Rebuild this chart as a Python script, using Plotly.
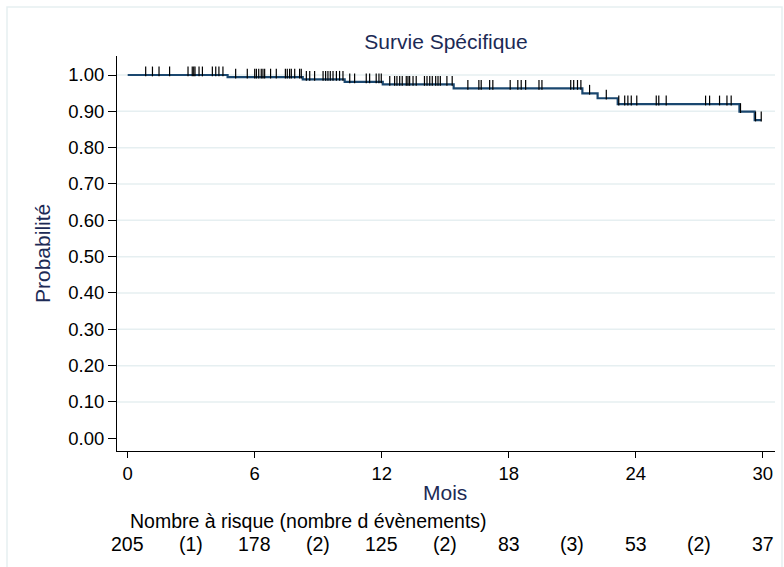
import numpy as np
import plotly.graph_objects as go

# ---- data ----
event_times = [4.72, 8.27, 10.25, 12.05, 15.40, 21.48, 22.20, 23.15, 28.90, 29.62]
survival = [0.994, 0.988, 0.981, 0.974, 0.963, 0.9496, 0.936, 0.920, 0.899, 0.876]
end_time = 29.93

censor_times = [0.85, 1.17, 1.48, 1.98, 2.85, 3.05, 3.12, 3.18, 3.37, 3.53, 4.0, 4.16,
                4.31, 4.5, 5.1, 5.65, 6.0, 6.08, 6.19, 6.31, 6.39, 6.47, 6.75, 7.02,
                7.45, 7.54, 7.65, 7.73, 7.89, 8.12, 8.2, 8.44, 8.6, 8.83, 9.23, 9.35,
                9.46, 9.57, 9.7, 9.86, 10.01, 10.17, 10.49, 10.72, 11.27, 11.43, 11.74,
                11.87, 11.98, 12.38, 12.61, 12.72, 12.85, 12.97, 13.16, 13.24, 13.32,
                13.48, 13.63, 14.02, 14.14, 14.27, 14.39, 14.55, 14.66, 14.77, 15.08,
                15.33, 16.07, 16.59, 16.70, 17.1, 17.25, 18.07, 18.43, 18.59, 18.8,
                19.43, 19.57, 20.93, 21.07, 21.25, 21.41, 21.82, 22.61, 23.2, 23.48,
                23.63, 23.79, 24.05, 24.97, 25.09, 25.44, 27.3, 27.49, 27.96, 28.31,
                28.51, 28.95, 29.66, 29.93]

x_ticks = [0, 6, 12, 18, 24, 30]
y_ticks = [0.0, 0.1, 0.2, 0.3, 0.4, 0.5, 0.6, 0.7, 0.8, 0.9, 1.0]
y_tick_labels = ["0.00", "0.10", "0.20", "0.30", "0.40", "0.50", "0.60", "0.70", "0.80", "0.90", "1.00"]
at_risk = [205, 178, 125, 83, 53, 37]
events_per_interval = [1, 2, 2, 3, 2]

title_text = "Survie Spécifique"
x_title = "Mois"
y_title = "Probabilité"
risk_title = "Nombre à risque (nombre d évènements)"

# ---- build step function ----
step_x = [0.0] + event_times + [end_time]
step_y = [1.0] + survival + [survival[-1]]

ev = np.array(event_times)
surv_arr = np.array([1.0] + survival)
ct = np.array(censor_times)
censor_s = surv_arr[np.searchsorted(ev, ct, side="right")]
tick_offset = 0.0098  # raise censor ticks above the curve

W, H = 784, 567
L, R, T, B = 117, 9, 56, 116
pw, ph = W - L - R, H - T - B

def px_to_paper_x(px):
    return (px - L) / pw

def px_to_paper_y(py):
    return (H - B - py) / ph

FONT = "Liberation Sans, Arial, sans-serif"
NAVY_TXT = "#1c2a55"
CURVE = "#1a476f"
GRID = "#e6eff1"

fig = go.Figure()
fig.add_trace(go.Scatter(x=step_x, y=step_y, mode="lines", line_shape="hv",
                         line=dict(color=CURVE, width=2.2), hoverinfo="skip",
                         showlegend=False))
fig.add_trace(go.Scatter(x=censor_times, y=censor_s + tick_offset, mode="markers",
                         marker=dict(symbol="line-ns", size=7,
                                     line=dict(color="black", width=1.2)),
                         hoverinfo="skip", showlegend=False))

shapes = []
for v in y_ticks[1:]:
    shapes.append(dict(type="line", xref="paper", yref="y", x0=0, x1=1, y0=v, y1=v,
                       line=dict(color=GRID, width=1.5), layer="below"))
# outer frame of the graph region
shapes.append(dict(type="rect", xref="paper", yref="paper",
                   x0=px_to_paper_x(7), x1=px_to_paper_x(782),
                   y0=px_to_paper_y(575), y1=px_to_paper_y(7),
                   line=dict(color=GRID, width=1.5), layer="below"))

annotations = []
annotations.append(dict(text=x_title, xref="paper", yref="paper",
                        x=px_to_paper_x(445), y=px_to_paper_y(493), yanchor="middle",
                        showarrow=False, font=dict(size=21, color=NAVY_TXT, family=FONT)))
annotations.append(dict(text=y_title, xref="paper", yref="paper", textangle=-90,
                        x=px_to_paper_x(42), y=px_to_paper_y(254),
                        xanchor="center", yanchor="middle",
                        showarrow=False, font=dict(size=21, color=NAVY_TXT, family=FONT)))
annotations.append(dict(text=risk_title, xref="x", yref="paper", x=0, xanchor="left",
                        y=px_to_paper_y(521), yanchor="middle", showarrow=False,
                        font=dict(size=19.5, color="black", family=FONT)))
for xv, n in zip(x_ticks, at_risk):
    annotations.append(dict(text=str(n), xref="x", yref="paper", x=xv,
                            y=px_to_paper_y(544), yanchor="middle", showarrow=False,
                            font=dict(size=19.5, color="black", family=FONT)))
for i, e in enumerate(events_per_interval):
    mid = (x_ticks[i] + x_ticks[i + 1]) / 2
    annotations.append(dict(text=f"({e})", xref="x", yref="paper", x=mid,
                            y=px_to_paper_y(544), yanchor="middle", showarrow=False,
                            font=dict(size=19.5, color="black", family=FONT)))

fig.update_layout(
    width=W, height=H,
    margin=dict(l=L, r=R, t=T, b=B, pad=0),
    paper_bgcolor="white", plot_bgcolor="white",
    title=dict(text=title_text, x=px_to_paper_x(446), xref="paper", xanchor="center",
               y=1 - 42 / H, yanchor="middle",
               font=dict(size=21, color=NAVY_TXT, family=FONT)),
    xaxis=dict(range=[-0.505, 30.58], tickvals=x_ticks, ticks="outside", ticklen=6,
               tickcolor="black", showline=True, linecolor="black", linewidth=1,
               showgrid=False, zeroline=False,
               tickfont=dict(size=18.5, color="black", family=FONT)),
    yaxis=dict(range=[-0.035, 1.0523], tickvals=y_ticks, ticktext=y_tick_labels,
               ticks="outside", ticklen=8, tickcolor="black", showline=True,
               linecolor="black", linewidth=1, showgrid=False, zeroline=False,
               tickfont=dict(size=18.5, color="black", family=FONT)),
    shapes=shapes, annotations=annotations,
)

fig.write_html("out.html", config={"displayModeBar": False},
               post_script="document.body.style.margin='0';document.body.style.overflow='hidden';")
